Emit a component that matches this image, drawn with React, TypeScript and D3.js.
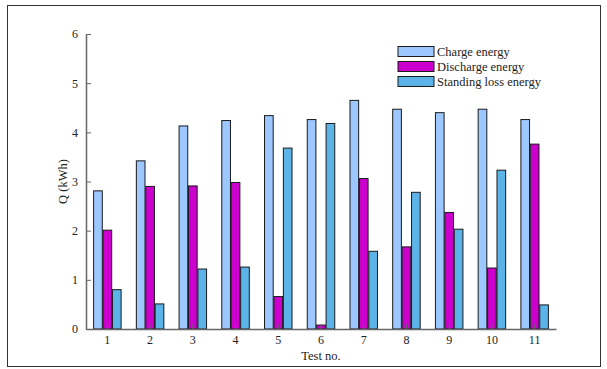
import React, { useEffect, useRef } from 'react';
import * as d3 from 'd3'

const tests = ['1', '2', '3', '4', '5', '6', '7', '8', '9', '10', '11']
const chargeEnergy = [2.81, 3.42, 4.13, 4.24, 4.34, 4.26, 4.65, 4.47, 4.40, 4.47, 4.26]
const dischargeEnergy = [2.01, 2.90, 2.91, 2.98, 0.66, 0.08, 3.06, 1.67, 2.37, 1.24, 3.76]
const standingLoss = [0.80, 0.51, 1.22, 1.26, 3.68, 4.18, 1.58, 2.78, 2.03, 3.23, 0.49]
const seriesNames = ['Charge energy', 'Discharge energy', 'Standing loss energy']
const seriesColors = ['#9cc8ff', '#cc00cc', '#5cb3e8']
const yTicks = [0, 1, 2, 3, 4, 5, 6]

const App: React.FC = () => {
  const svgRef = useRef() as React.MutableRefObject<SVGSVGElement>

  useEffect(() => {
    const W = 607, H = 369
    const font = 'Liberation Serif, Times New Roman, DejaVu Serif, serif'
    const plot = { left: 86, right: 556, top: 34, bottom: 329 }

    const svg = d3.select(svgRef.current)
    svg.html('')
    svg.attr('width', W).attr('height', H).attr('viewBox', `0 0 ${W} ${H}`)
      .attr('font-family', font)
      .style('position', 'absolute').style('left', 0).style('top', 0)

    svg.append('rect').attr('width', W).attr('height', H).attr('fill', '#fff')

    // outer frame
    svg.append('rect')
      .attr('x', 7.5).attr('y', 5.5).attr('width', 593).attr('height', 361)
      .attr('fill', 'none').attr('stroke', '#333').attr('stroke-width', 1)

    const x = d3.scaleBand().domain(tests).range([plot.left, plot.right])
    const y = d3.scaleLinear().domain([0, 6]).range([plot.bottom, plot.top])
    const inner = d3.scaleBand().domain(['0', '1', '2']).range([0, 27.5]).paddingInner(0.08)

    const series = [chargeEnergy, dischargeEnergy, standingLoss]

    const groups = svg.append('g').selectAll('g')
      .data(tests)
      .join('g')
      .attr('transform', d => `translate(${(x(d) as number) + x.bandwidth() / 2 - 13.75}, 0)`)

    groups.selectAll('rect')
      .data((d, i) => series.map((s, k) => ({ k, v: s[i] })))
      .join('rect')
      .attr('x', d => inner(String(d.k)) as number)
      .attr('width', inner.bandwidth())
      .attr('y', d => y(d.v))
      .attr('height', d => y(0) - y(d.v))
      .attr('fill', d => seriesColors[d.k])
      .attr('stroke', '#1a1a1a')
      .attr('stroke-width', 1)

    const axisColor = '#666'

    // x axis
    const xAxis = svg.append('g')
      .attr('transform', `translate(0, ${plot.bottom})`)
      .call(d3.axisBottom(x).tickSizeInner(-5).tickSizeOuter(0).tickPadding(6))
    xAxis.select('.domain').attr('stroke', axisColor).attr('stroke-width', 1.5)
    xAxis.selectAll('.tick line').attr('stroke', axisColor)
    xAxis.selectAll('.tick text').attr('fill', '#222').attr('font-size', 12).attr('font-family', font)

    // y axis
    const yAxis = svg.append('g')
      .attr('transform', `translate(${plot.left}, 0)`)
      .call(d3.axisLeft(y).tickValues(yTicks).tickFormat(d3.format('d')).tickSizeInner(-5).tickSizeOuter(0).tickPadding(8))
    yAxis.select('.domain').attr('stroke', axisColor).attr('stroke-width', 1.5)
    yAxis.selectAll('.tick line').attr('stroke', axisColor)
    yAxis.selectAll('.tick text').attr('fill', '#222').attr('font-size', 12).attr('font-family', font)

    // axis titles
    svg.append('text')
      .attr('x', (plot.left + plot.right) / 2)
      .attr('y', 360)
      .attr('text-anchor', 'middle')
      .attr('font-size', 12.5)
      .attr('fill', '#222')
      .text('Test no.')

    svg.append('text')
      .attr('transform', `translate(67, ${(plot.top + plot.bottom) / 2}) rotate(-90)`)
      .attr('text-anchor', 'middle')
      .attr('font-size', 12.5)
      .attr('fill', '#222')
      .text('Q (kWh)')

    // legend
    const legend = svg.append('g').attr('transform', 'translate(398, 46.5)')
    seriesNames.forEach((name, i) => {
      const row = legend.append('g').attr('transform', `translate(0, ${i * 15})`)
      row.append('rect')
        .attr('width', 36).attr('height', 10)
        .attr('fill', seriesColors[i])
        .attr('stroke', '#1a1a1a').attr('stroke-width', 1)
      row.append('text')
        .attr('x', 39).attr('y', 9)
        .attr('font-size', 12.5)
        .attr('fill', '#222')
        .text(name)
    })
  }, [])

  return <svg ref={svgRef}/>
}

export default App
